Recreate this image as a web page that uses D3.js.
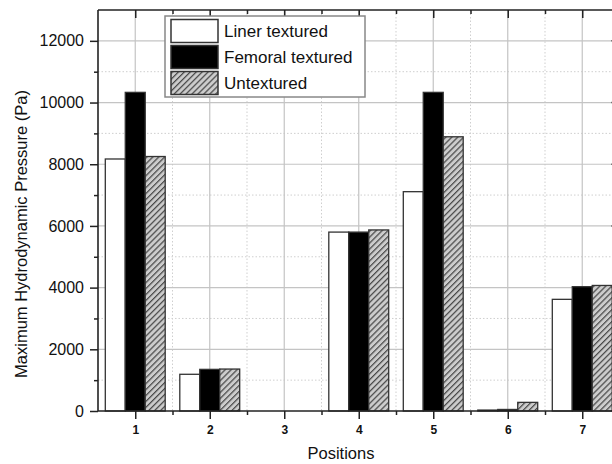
<!DOCTYPE html>
<html>
<head>
<meta charset="utf-8">
<script src="https://cdn.jsdelivr.net/npm/d3@7"></script>
<style>
html,body{margin:0;padding:0;background:#fff;}
svg{display:block;font-family:"Liberation Sans",Arial,sans-serif;}
</style>
</head>
<body>
<svg id="chart" width="612" height="464"></svg>
<script>
const categories = [1, 2, 3, 4, 5, 6, 7];
const seriesNames = ["Liner textured", "Femoral textured", "Untextured"];
const linerTextured = [8170, 1190, 0, 5800, 7110, 30, 3620];
const femoralTextured = [10330, 1350, 0, 5800, 10330, 50, 4030];
const untextured = [8250, 1360, 0, 5870, 8890, 280, 4070];
const yTicks = [0, 2000, 4000, 6000, 8000, 10000, 12000];
const yMinorTicks = [1000, 3000, 5000, 7000, 9000, 11000];
const xTickLabels = ["1", "2", "3", "4", "5", "6", "7"];

const series = [linerTextured, femoralTextured, untextured];
const fills = ["#ffffff", "#000000", "url(#hatch)"];

const svg = d3.select("#chart");
const plotLeft = 98, plotTop = 10, plotBottom = 411;
const x = d3.scaleLinear().domain([0.5, 7.5]).range([plotLeft, plotLeft + 7 * 74.5]);
const y = d3.scaleLinear().domain([0, 13000]).range([plotBottom, plotTop]);
const plotRight = x(7.5);
const barW = 0.268; // in category units

// hatch pattern
const defs = svg.append("defs");
const pat = defs.append("pattern").attr("id", "hatch")
  .attr("patternUnits", "userSpaceOnUse").attr("width", 4.2).attr("height", 4.2)
  .attr("patternTransform", "rotate(45)");
pat.append("rect").attr("width", 4.2).attr("height", 4.2).attr("fill", "#cccccc");
pat.append("line").attr("x1", 0.6).attr("y1", 0).attr("x2", 0.6).attr("y2", 4.2)
  .attr("stroke", "#4a4a4a").attr("stroke-width", 1.3);

// grid
const grid = svg.append("g");
const xMinor = categories.map(c => c + 0.5);
grid.selectAll(".ymin").data(yMinorTicks).join("line")
  .attr("x1", plotLeft).attr("x2", plotRight).attr("y1", d => y(d)).attr("y2", d => y(d))
  .attr("stroke", "#cfcfcf").attr("stroke-dasharray", "1.5,2");
grid.selectAll(".xmin").data(xMinor).join("line")
  .attr("y1", plotTop).attr("y2", plotBottom).attr("x1", d => x(d)).attr("x2", d => x(d))
  .attr("stroke", "#cfcfcf").attr("stroke-dasharray", "1.5,2");
grid.selectAll(".ymaj").data(yTicks.slice(1)).join("line")
  .attr("x1", plotLeft).attr("x2", plotRight).attr("y1", d => y(d)).attr("y2", d => y(d))
  .attr("stroke", "#c4c4c4").attr("stroke-width", 1.2);
grid.selectAll(".xmaj").data(categories).join("line")
  .attr("y1", plotTop).attr("y2", plotBottom).attr("x1", d => x(d)).attr("x2", d => x(d))
  .attr("stroke", "#c4c4c4").attr("stroke-width", 1.2);

// bars
series.forEach((vals, si) => {
  svg.append("g").selectAll("rect").data(vals).join("rect")
    .attr("x", (d, i) => x(categories[i] + (si - 1.5) * barW))
    .attr("width", x(barW) - x(0))
    .attr("y", d => y(d))
    .attr("height", d => y(0) - y(d))
    .attr("fill", fills[si])
    .attr("stroke", "#333").attr("stroke-width", 1.3);
});

// axes
const axisG = svg.append("g");
const yAxis = d3.axisLeft(y).tickValues(yTicks).tickSize(8).tickPadding(6).tickFormat(d3.format("d"));
const yg = axisG.append("g").attr("transform", `translate(${plotLeft},0)`).call(yAxis);
yg.select(".domain").remove();
yg.selectAll(".tick line").attr("stroke", "#222").attr("stroke-width", 1.5);
yg.selectAll("text").attr("font-size", 16).attr("fill", "#111")
  .attr("font-family", "Liberation Sans, Arial, sans-serif");
const ygm = axisG.append("g").attr("transform", `translate(${plotLeft},0)`)
  .call(d3.axisLeft(y).tickValues(yMinorTicks).tickSize(4).tickFormat(""));
ygm.select(".domain").remove();
ygm.selectAll(".tick line").attr("stroke", "#222").attr("stroke-width", 1.5);

// right axis inward ticks
axisG.append("g").selectAll("line").data(yTicks).join("line")
  .attr("x1", plotRight - 8).attr("x2", plotRight).attr("y1", d => y(d)).attr("y2", d => y(d))
  .attr("stroke", "#222").attr("stroke-width", 1.5);

// bottom axis
const xAxis = d3.axisBottom(x).tickValues(categories).tickSize(8).tickPadding(6)
  .tickFormat((d, i) => xTickLabels[i]);
const xg = axisG.append("g").attr("transform", `translate(0,${plotBottom})`).call(xAxis);
xg.select(".domain").remove();
xg.selectAll(".tick line").attr("stroke", "#222").attr("stroke-width", 1.5);
xg.selectAll("text").attr("font-size", 12).attr("font-weight", "bold").attr("fill", "#111")
  .attr("font-family", "Liberation Sans, Arial, sans-serif");
const xgm = axisG.append("g").attr("transform", `translate(0,${plotBottom})`)
  .call(d3.axisBottom(x).tickValues(xMinor).tickSize(4).tickFormat(""));
xgm.select(".domain").remove();
xgm.selectAll(".tick line").attr("stroke", "#222").attr("stroke-width", 1.5);

// top axis inward ticks
const xt = axisG.append("g").attr("transform", `translate(0,${plotTop})`)
  .call(d3.axisTop(x).tickValues(categories).tickSize(-8).tickFormat(""));
xt.select(".domain").remove();
xt.selectAll(".tick line").attr("stroke", "#222").attr("stroke-width", 1.5);
const xtm = axisG.append("g").attr("transform", `translate(0,${plotTop})`)
  .call(d3.axisTop(x).tickValues(xMinor).tickSize(-4).tickFormat(""));
xtm.select(".domain").remove();
xtm.selectAll(".tick line").attr("stroke", "#222").attr("stroke-width", 1.5);

// frame lines
axisG.append("line").attr("x1", plotLeft).attr("x2", plotLeft).attr("y1", plotTop).attr("y2", plotBottom)
  .attr("stroke", "#222").attr("stroke-width", 1.6);
axisG.append("line").attr("x1", plotLeft).attr("x2", plotRight).attr("y1", plotBottom).attr("y2", plotBottom)
  .attr("stroke", "#222").attr("stroke-width", 1.6);
axisG.append("line").attr("x1", plotLeft).attr("x2", plotRight).attr("y1", plotTop).attr("y2", plotTop)
  .attr("stroke", "#222").attr("stroke-width", 1.6);
axisG.append("line").attr("x1", plotRight).attr("x2", plotRight).attr("y1", plotTop).attr("y2", plotBottom)
  .attr("stroke", "#222").attr("stroke-width", 1.6);

// titles
svg.append("text").attr("x", 341).attr("y", 459).attr("text-anchor", "middle")
  .attr("font-size", 16.5).attr("fill", "#111").text("Positions");
svg.append("text").attr("transform", "translate(27,234) rotate(-90)").attr("text-anchor", "middle")
  .attr("font-size", 16.5).attr("fill", "#111").text("Maximum Hydrodynamic Pressure (Pa)");

// legend
const lg = svg.append("g");
lg.append("rect").attr("x", 165).attr("y", 16).attr("width", 200).attr("height", 81)
  .attr("fill", "#fff").attr("stroke", "#888").attr("stroke-width", 1.5);
seriesNames.forEach((name, i) => {
  lg.append("rect").attr("x", 171).attr("y", 19.5 + i * 26).attr("width", 47).attr("height", 23)
    .attr("fill", fills[i]).attr("stroke", "#333").attr("stroke-width", 1.5);
  lg.append("text").attr("x", 224).attr("y", 37 + i * 26)
    .attr("font-size", 17).attr("fill", "#111").text(name);
});
</script>
</body>
</html>
